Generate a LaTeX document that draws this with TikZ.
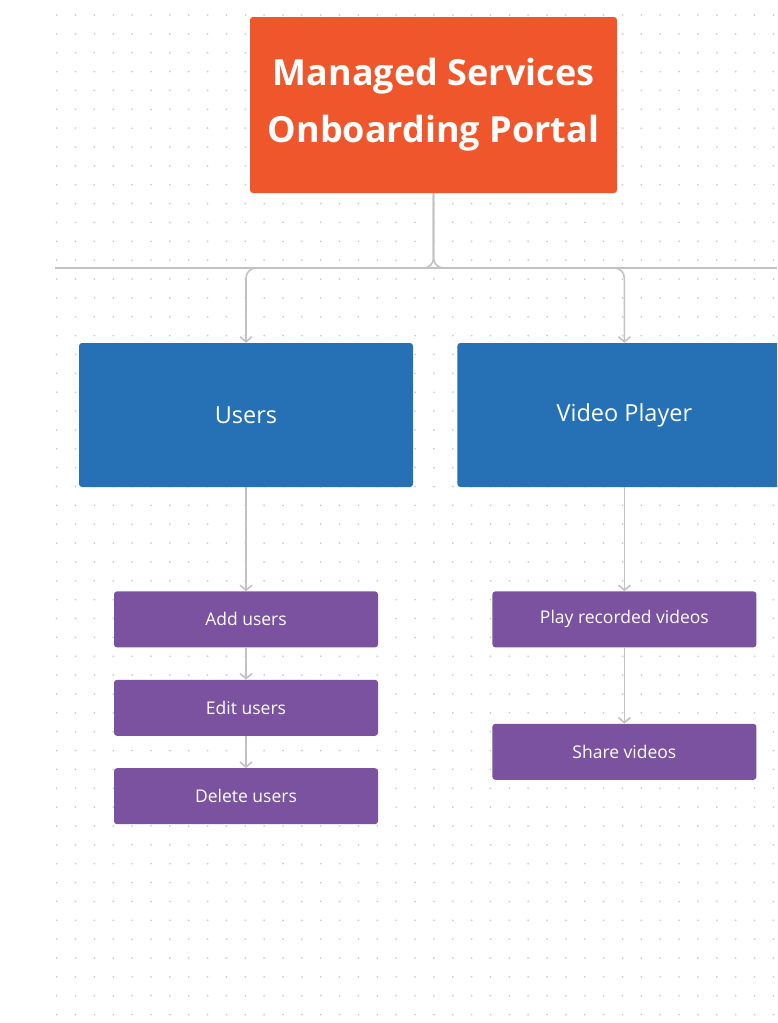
\documentclass[tikz,border=0pt]{standalone}
\usepackage{fontspec}
\setmainfont{Open Sans}
\usetikzlibrary{positioning, arrows.meta}
\definecolor{portalorange}{HTML}{F0562C}
\definecolor{moduleblue}{HTML}{2671B5}
\definecolor{featurepurple}{HTML}{7B529F}
\definecolor{linegray}{HTML}{C2C2C2}
\definecolor{dotgray}{HTML}{CDCDCD}
\tikzstyle{portal} = [rectangle, rounded corners=3pt, minimum width=367pt, minimum height=176pt, inner sep=0pt, align=center, fill=portalorange, text=white, font=\fontsize{36}{57}\selectfont\bfseries]
\tikzstyle{module} = [rectangle, rounded corners=3pt, minimum width=334pt, minimum height=144pt, inner sep=0pt, text centered, fill=moduleblue, text=white, font=\fontsize{23.5}{28}\selectfont]
\tikzstyle{feature} = [rectangle, rounded corners=3pt, minimum width=264pt, minimum height=56pt, inner sep=0pt, text centered, fill=featurepurple, text=white, font=\fontsize{17.5}{21}\selectfont]
\tikzstyle{link} = [line width=1.6pt, draw=linegray]
\tikzstyle{arrow} = [line width=1.6pt, draw=linegray, -{Straight Barb[length=5pt,width=12pt]}]

\begin{document}
\begin{tikzpicture}[x=1pt, y=-1pt, node distance=32pt]
\useasboundingbox (0,0) rectangle (777,1023);
\clip (0,0) rectangle (777,1023);
\fill[white] (0,0) rectangle (777,1023);

% dotted canvas
\foreach \i in {0,...,38}
  \foreach \j in {0,...,53}
    \fill[dotgray] (56.7+\i*18.86, 15+\j*18.86) circle (1pt);

\node (portal) [portal] at (433.5,105) {Managed Services\\Onboarding Portal};

\node (users) [module] at (246,415) {Users};
\node (player) [module, right=44pt of users] {Video Player};

\node (add) [feature, below=104pt of users] {Add users};
\node (edit) [feature, below=of add] {Edit users};
\node (delete) [feature, below=of edit] {Delete users};

\node (play) [feature, below=104pt of player] {Play recorded videos};
\node (share) [feature, below=76pt of play] {Share videos};

\coordinate (left) at (55,268);
\coordinate (right) at (777,268);
\coordinate (hub) at (portal.south |- left);

\draw [link] (left) -- (right);
\draw [arrow, rounded corners=10pt] (portal.south) -- (hub) -| (users.north);
\draw [arrow, rounded corners=10pt] (portal.south) -- (hub) -| (player.north);

\draw [arrow] (users) -- (add);
\draw [arrow] (add) -- (edit);
\draw [arrow] (edit) -- (delete);

\draw [arrow] (player) -- (play);
\draw [arrow] (play) -- (share);

\end{tikzpicture}
\end{document}
